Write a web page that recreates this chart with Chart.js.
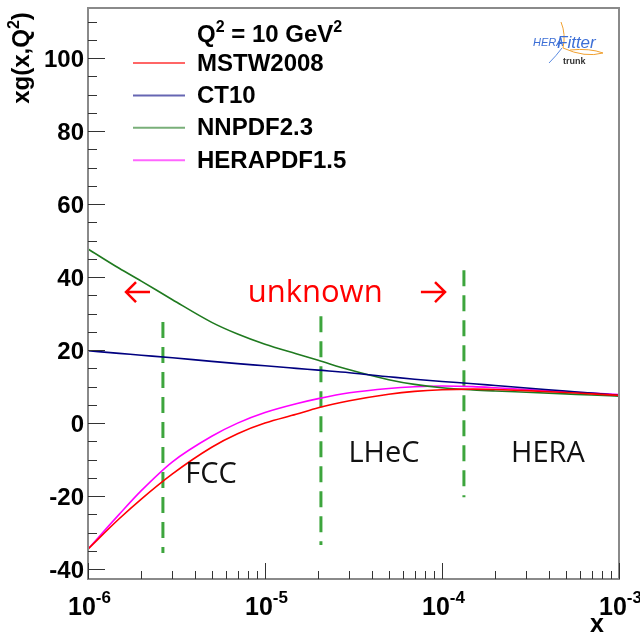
<!DOCTYPE html>
<html>
<head>
<meta charset="utf-8">
<script src="https://cdn.jsdelivr.net/npm/chart.js@4/dist/chart.umd.min.js"></script>
<style>
html, body { margin: 0; padding: 0; background: #fff; }
</style>
</head>
<body>
<canvas id="xg-chart" width="640" height="633"></canvas>
<script>
// xg(x,Q^2) at Q^2 = 10 GeV^2 for four PDF sets

var xValues = [1e-6, 1.5e-6, 2e-6, 3e-6, 5e-6, 7e-6, 1e-5, 1.5e-5, 2e-5, 3e-5,
	5e-5, 7e-5, 1e-4, 1.5e-4, 2e-4, 3e-4, 5e-4, 7e-4, 1e-3];

var mstwValues = [-34.5, -26.2, -20.8, -13.9, -6.6, -2.9, 0.0, 2.4, 4.2, 6.1,
	7.9, 8.7, 9.15, 9.3, 9.2, 8.9, 8.4, 8.0, 7.6];
var ct10Values = [19.8, 19.1, 18.6, 17.9, 16.9, 16.3, 15.7, 15.0, 14.5, 13.8,
	12.7, 12.0, 11.4, 10.8, 10.3, 9.6, 8.8, 8.2, 7.6];
var nnpdfValues = [47.7, 42.4, 38.9, 33.8, 27.6, 24.4, 21.6, 19.0, 17.2, 14.6,
	11.9, 10.6, 9.7, 9.1, 8.8, 8.45, 8.0, 7.7, 7.4];
var heraValues = [-34.5, -25.0, -18.5, -10.6, -3.6, 0.0, 2.9, 5.3, 6.7, 8.3,
	9.5, 9.95, 10.15, 10.0, 9.7, 9.2, 8.6, 8.2, 7.8];

var pdfLabels = ['MSTW2008', 'CT10', 'NNPDF2.3', 'HERAPDF1.5'];
var pdfColors = ['#ff0000', '#000080', '#1f7a1f', '#ff00ff'];

// kinematic region boundaries (dashed lines)
var boundX = [2.65e-6, 2.07e-5, 1.33e-4];
var boundTop = [27.7, 29.3, 41.9];
var boundBottom = [-35.6, -33.4, -20.3];

var regionNames = ['FCC', 'LHeC', 'HERA'];
var regionX = [4.95e-6, 4.7e-5, 3.97e-4];
var regionY = [-16.4, -10.7, -10.7];

var X_MIN = 1e-6, X_MAX = 1e-3, Y_MIN = -42.7, Y_MAX = 113.7;
var BOLD = '"Liberation Sans", Arial, sans-serif';
var SOFT = '"Open Sans", "Noto Sans", sans-serif';

function toPoints(vals) {
	return xValues.map(function(x, i) { return { x: x, y: vals[i] }; });
}

var datasets = [mstwValues, ct10Values, nnpdfValues, heraValues].map(function(vals, i) {
	return {
		label: pdfLabels[i],
		data: toPoints(vals),
		borderColor: pdfColors[i],
		borderWidth: 1.6,
		pointRadius: 0,
		cubicInterpolationMode: 'monotone',
		fill: false
	};
});

boundX.forEach(function(bx, i) {
	datasets.push({
		label: 'bound' + i,
		data: [{ x: bx, y: boundTop[i] }, { x: bx, y: boundBottom[i] }],
		borderColor: 'rgba(40,155,40,0.9)',
		borderWidth: 3,
		borderDash: [16, 9],
		pointRadius: 0,
		fill: false
	});
});

// text with superscripts: parts = [text, size, raise]
function drawRich(ctx, parts, x, y, align) {
	var w = 0;
	parts.forEach(function(p) {
		ctx.font = 'bold ' + p[1] + 'px ' + BOLD;
		w += ctx.measureText(p[0]).width;
	});
	var cx = align === 'center' ? x - w / 2 : (align === 'right' ? x - w : x);
	ctx.textAlign = 'left';
	ctx.textBaseline = 'alphabetic';
	parts.forEach(function(p) {
		ctx.font = 'bold ' + p[1] + 'px ' + BOLD;
		ctx.fillText(p[0], cx, y - p[2]);
		cx += ctx.measureText(p[0]).width;
	});
}

var decorPlugin = {
	id: 'decor',
	afterDatasetsDraw: function(chart) {
		var ctx = chart.ctx, area = chart.chartArea;
		var xs = chart.scales.x, ys = chart.scales.y;
		ctx.save();

		// frame
		ctx.strokeStyle = '#8a8a8a';
		ctx.lineWidth = 2;
		ctx.strokeRect(area.left, area.top, area.right - area.left, area.bottom - area.top);

		// y ticks and labels
		ctx.strokeStyle = '#333';
		ctx.lineWidth = 1;
		ctx.fillStyle = '#000';
		for (var v = Math.ceil(Y_MIN / 5) * 5; v <= Y_MAX; v += 5) {
			var py = Math.round(ys.getPixelForValue(v)) + 0.5;
			var major = v % 20 === 0;
			ctx.beginPath();
			ctx.moveTo(area.left, py);
			ctx.lineTo(area.left + (major ? 17 : 9), py);
			ctx.stroke();
			if (major) {
				ctx.font = 'bold 24px ' + BOLD;
				ctx.textAlign = 'right';
				ctx.textBaseline = 'alphabetic';
				ctx.fillText(String(v), area.left - 4, py + 8.5);
			}
		}

		// x ticks (log) and labels
		for (var e = -6; e <= -3; e++) {
			for (var m = 1; m <= 9; m++) {
				var val = m * Math.pow(10, e);
				if (val > X_MAX * 1.0001) break;
				var px = Math.round(xs.getPixelForValue(val)) + 0.5;
				ctx.beginPath();
				ctx.moveTo(px, area.bottom);
				ctx.lineTo(px, area.bottom - (m === 1 ? 16 : 8));
				ctx.stroke();
				if (m === 1) {
					drawRich(ctx, [['10', 25, 0], [String(e), 17, 12]], px + 1, 615, 'center');
				}
			}
		}

		// axis titles
		drawRich(ctx, [['x', 25, 0]], 597, 632, 'center');
		ctx.save();
		ctx.translate(29, 58);
		ctx.rotate(-Math.PI / 2);
		drawRich(ctx, [['xg(x,Q', 24, 0], ['2', 16, 10], [')', 24, 0]], 0, 0, 'center');
		ctx.restore();

		// legend
		drawRich(ctx, [['Q', 24, 0], ['2', 16, 10], [' = 10 GeV', 24, 0], ['2', 16, 10]], 197, 42, 'left');
		chart.data.datasets.slice(0, pdfLabels.length).forEach(function(ds, i) {
			var ly = 63 + i * 32.4;
			ctx.strokeStyle = ds.borderColor;
			ctx.globalAlpha = 0.6;
			ctx.lineWidth = 2;
			ctx.beginPath();
			ctx.moveTo(133, ly);
			ctx.lineTo(185, ly);
			ctx.stroke();
			ctx.globalAlpha = 1;
			ctx.fillStyle = '#000';
			drawRich(ctx, [[ds.label, 24, 0]], 197, ly + 7.5, 'left');
		});

		// region names
		ctx.fillStyle = '#111';
		ctx.font = '29px ' + SOFT;
		ctx.textAlign = 'center';
		ctx.textBaseline = 'alphabetic';
		regionNames.forEach(function(name, i) {
			ctx.fillText(name, xs.getPixelForValue(regionX[i]), ys.getPixelForValue(regionY[i]));
		});

		// "unknown" with arrows
		ctx.fillStyle = '#ff0000';
		ctx.font = '31px ' + SOFT;
		ctx.fillText('unknown', xs.getPixelForValue(1.92e-5), ys.getPixelForValue(33.15));
		ctx.strokeStyle = '#ff0000';
		ctx.lineWidth = 2.5;
		var ay = ys.getPixelForValue(35.9);
		[[2.24e-6, 1.64e-6], [7.6e-5, 1.04e-4]].forEach(function(a) {
			var x0 = xs.getPixelForValue(a[0]), x1 = xs.getPixelForValue(a[1]);
			var d = x1 > x0 ? -1 : 1;
			ctx.beginPath();
			ctx.moveTo(x0, ay);
			ctx.lineTo(x1, ay);
			ctx.moveTo(x1 + d * 10, ay - 10);
			ctx.lineTo(x1, ay);
			ctx.lineTo(x1 + d * 10, ay + 10);
			ctx.stroke();
		});

		// HERAFitter logo
		ctx.strokeStyle = '#f0a030';
		ctx.lineWidth = 1;
		ctx.beginPath();
		ctx.moveTo(561, 22);
		ctx.quadraticCurveTo(566, 34, 563, 48);
		ctx.quadraticCurveTo(585, 58, 603, 53);
		ctx.quadraticCurveTo(590, 48, 570, 50);
		ctx.stroke();
		ctx.strokeStyle = '#5a8ae0';
		ctx.beginPath();
		ctx.moveTo(549, 63);
		ctx.quadraticCurveTo(556, 56, 562, 48);
		ctx.stroke();
		ctx.fillStyle = '#3d6fd6';
		ctx.textAlign = 'left';
		ctx.font = 'italic 11px ' + BOLD;
		ctx.fillText('HERA', 533, 46);
		ctx.font = 'italic 17px ' + BOLD;
		ctx.fillText('Fitter', 557, 48);
		ctx.fillStyle = '#333';
		ctx.font = 'bold 9px ' + BOLD;
		ctx.fillText('trunk', 563, 64);

		ctx.restore();
	}
};

window.addEventListener('load', function() {
	var ctx = document.getElementById('xg-chart').getContext('2d');
	new Chart(ctx, {
		type: 'line',
		data: { datasets: datasets },
		options: {
			responsive: false,
			maintainAspectRatio: false,
			animation: false,
			devicePixelRatio: 1,
			layout: { padding: { left: 88, right: 21, top: 8, bottom: 54 } },
			scales: {
				x: { type: 'logarithmic', min: X_MIN, max: X_MAX, display: false },
				y: { type: 'linear', min: Y_MIN, max: Y_MAX, display: false }
			},
			plugins: {
				legend: { display: false },
				tooltip: { enabled: false }
			}
		},
		plugins: [decorPlugin]
	});
});
</script>
</body>
</html>
